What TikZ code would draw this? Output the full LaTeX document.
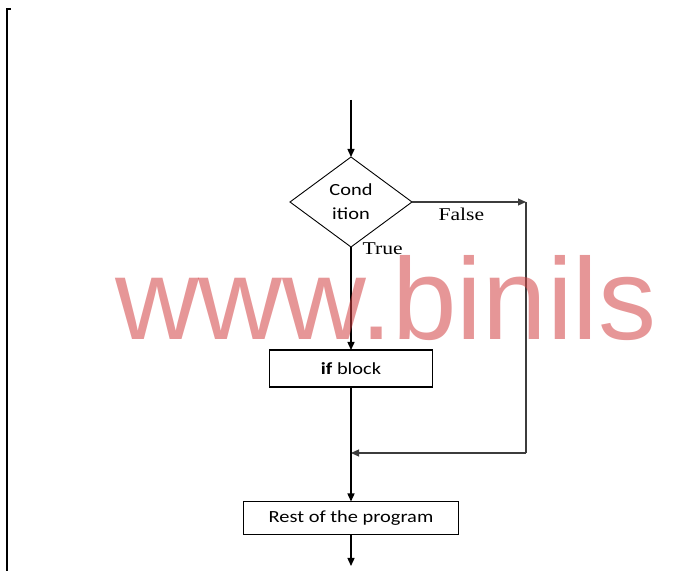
\documentclass[tikz,border=0pt]{standalone}
\usepackage{fontspec}
\newfontfamily\boxfont[FakeStretch=1.2]{Carlito}
\newfontfamily\labelfont[FakeStretch=1.2]{Liberation Serif}
\newfontfamily\markfont{Liberation Sans}
\definecolor{wmred}{RGB}{210,64,66}
\definecolor{loopgray}{RGB}{60,60,60}
\usetikzlibrary{arrows.meta,positioning,shapes.geometric}

\begin{document}
\begin{tikzpicture}[x=1pt,y=1pt,
    decision/.style={diamond,draw,line width=0.9pt,minimum width=122pt,minimum height=90pt,
      aspect=1.35,inner sep=0pt,outer sep=0pt,align=center,
      font=\boxfont\fontsize{17}{24}\selectfont},
    process/.style={rectangle,draw,line width=1.2pt,outer sep=0pt,
      font=\boxfont\fontsize{17}{20}\selectfont},
    flow/.style={line width=1.4pt,-{Triangle[length=8pt,width=7pt]}},
    loopline/.style={line width=1.1pt,loopgray},
    branch/.style={font=\labelfont\fontsize{18}{20}\selectfont,text=black,inner sep=0pt},
    wmark/.style={font=\markfont\fontsize{116}{120}\selectfont,text=wmred,text opacity=0.55,inner sep=0pt}]
  \useasboundingbox (0,0) rectangle (673,571);
  % page edge
  \draw[line width=1.8pt] (7,0) -- (7,562) -- (11,562);
  % blocks
  \coordinate (start) at (351,471);
  \node[decision] (cond) at (351,369) {Cond\\ition};
  \node[process,minimum width=163pt,minimum height=37pt] (ifb) at (351,202.5) {\textbf{if} block};
  \node[process,minimum width=215pt,minimum height=33pt] (rest) at (351,53) {Rest of the program};
  \coordinate (stop) at (351,5);
  % false branch corners
  \coordinate (fcorner) at (526,369);
  \coordinate (bcorner) at (526,118);
  \coordinate (join) at (351,118);
  % connectors
  \draw[flow] (start) -- (cond.north);
  \draw[flow] (cond.south) -- node[branch,pos=0,anchor=base west,xshift=11pt,yshift=-8pt] (tlab) {True} (ifb.north);
  \draw[flow,loopline] (cond.east) -- node[branch,pos=0,anchor=base west,xshift=26pt,yshift=-19pt] (flab) {False} (fcorner);
  \draw[loopline] (fcorner) -- (bcorner);
  \draw[flow,loopline] (bcorner) -- (join);
  \draw[flow] (ifb.south) -- (rest.north);
  \draw[flow] (rest.south) -- (stop);
  % watermark
  \node[wmark,anchor=base west] (wm) at (115,231) {www.binils};
\end{tikzpicture}
\end{document}
